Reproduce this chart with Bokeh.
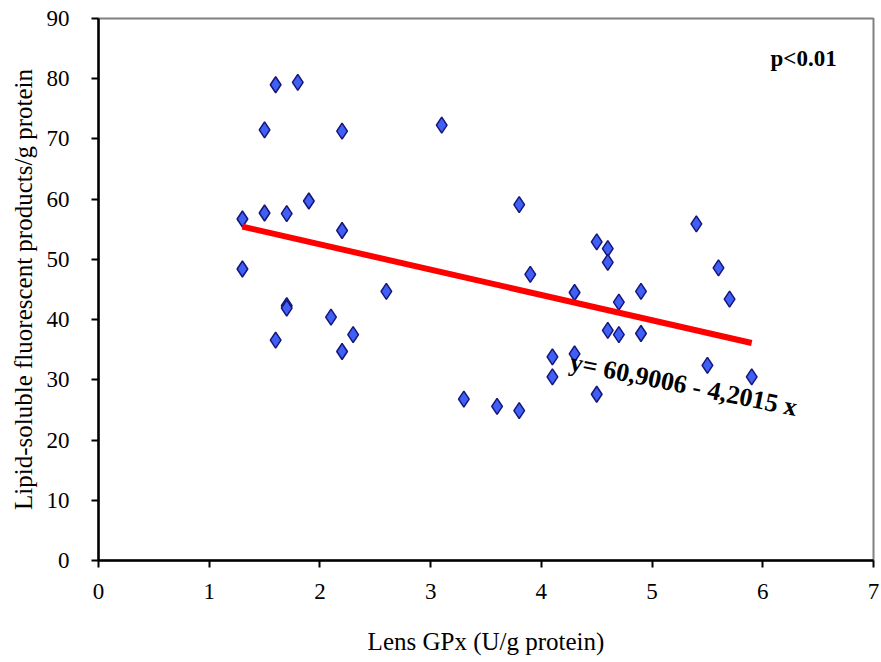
from bokeh.plotting import figure
from bokeh.models import Range1d, FixedTicker, ColumnDataSource
from bokeh.core.properties import value
from bokeh.embed import file_html
from bokeh.resources import INLINE

gpx = [1.3, 1.3, 1.5, 1.5, 1.6, 1.8, 1.7, 1.7, 1.7, 1.6, 1.9, 2.2, 2.2, 2.1, 2.2, 2.3,
       2.6, 3.1, 3.3, 3.6, 3.8, 3.8, 3.9, 4.1, 4.1, 4.3, 4.3, 4.5, 4.5, 4.6, 4.6, 4.6,
       4.7, 4.7, 4.9, 4.9, 5.4, 5.5, 5.6, 5.7, 5.9]
lfp = [56.7, 48.4, 57.7, 71.5, 79.0, 79.4, 57.6, 42.3, 41.9, 36.6, 59.7, 71.3, 54.8, 40.4, 34.7, 37.5,
       44.7, 72.3, 26.8, 25.6, 24.9, 59.1, 47.5, 33.8, 30.5, 44.5, 34.3, 52.9, 27.6, 51.8, 49.5, 38.2,
       42.9, 37.5, 44.7, 37.7, 55.9, 32.4, 48.6, 43.4, 30.5]
intercept = 60.9006
slope = -4.2015
fit_x = [1.3, 5.9]
fit_y = [intercept + slope * v for v in fit_x]
x_ticks = [0, 1, 2, 3, 4, 5, 6, 7]
y_ticks = [0, 10, 20, 30, 40, 50, 60, 70, 80, 90]

FONT = "Liberation Serif"

p = figure(width=881, height=662, output_backend="svg", toolbar_location=None,
           x_range=Range1d(0, 7), y_range=Range1d(0, 90),
           min_border_left=98, min_border_right=8, min_border_top=18, min_border_bottom=102)
p.background_fill_color = "white"
p.border_fill_color = "white"
p.outline_line_color = "#808080"
p.outline_line_width = 2
p.xgrid.visible = False
p.ygrid.visible = False

for ax in (p.xaxis, p.yaxis):
    ax.axis_line_color = "black"
    ax.axis_line_width = 2.5
    ax.major_tick_line_color = "black"
    ax.major_tick_line_width = 2
    ax.major_tick_out = 7
    ax.major_tick_in = 0
    ax.minor_tick_line_color = None
    ax.major_label_text_font = FONT
    ax.major_label_text_font_size = "23px"
    ax.major_label_text_color = "black"
    ax.axis_label_text_font = FONT
    ax.axis_label_text_font_style = "normal"
    ax.axis_label_text_color = "black"

p.xaxis.ticker = FixedTicker(ticks=x_ticks)
p.yaxis.ticker = FixedTicker(ticks=y_ticks)
p.xaxis.axis_label = "Lens GPx (U/g protein)"
p.yaxis.axis_label = "Lipid-soluble fluorescent products/g protein"
p.xaxis.axis_label_text_font_size = "25px"
p.yaxis.axis_label_text_font_size = "25px"
p.xaxis.major_label_standoff = 16
p.yaxis.major_label_standoff = 22
p.xaxis.axis_label_standoff = 26
p.yaxis.axis_label_standoff = 7

src = ColumnDataSource(dict(x=gpx, y=lfp))
p.scatter("x", "y", source=src, marker="diamond", size=16,
          fill_color="#3f5ff5", line_color="#15157a", line_width=1.5)

p.line(fit_x, fit_y, line_color="#ff0000", line_width=6)

p.text(x=[4.26], y=[33.0], text=["y= 60,9006 - 4,2015 x"], angle=-0.2,
       text_font=value(FONT), text_font_size="26px", text_font_style="bold",
       text_color="black", text_align="left", text_baseline="middle")
p.text(x=[6.07], y=[83.4], text=["p<0.01"],
       text_font=value(FONT), text_font_size="23px", text_font_style="bold",
       text_color="black", text_align="left", text_baseline="middle")

open("out.html", "w").write(file_html(p, INLINE))
